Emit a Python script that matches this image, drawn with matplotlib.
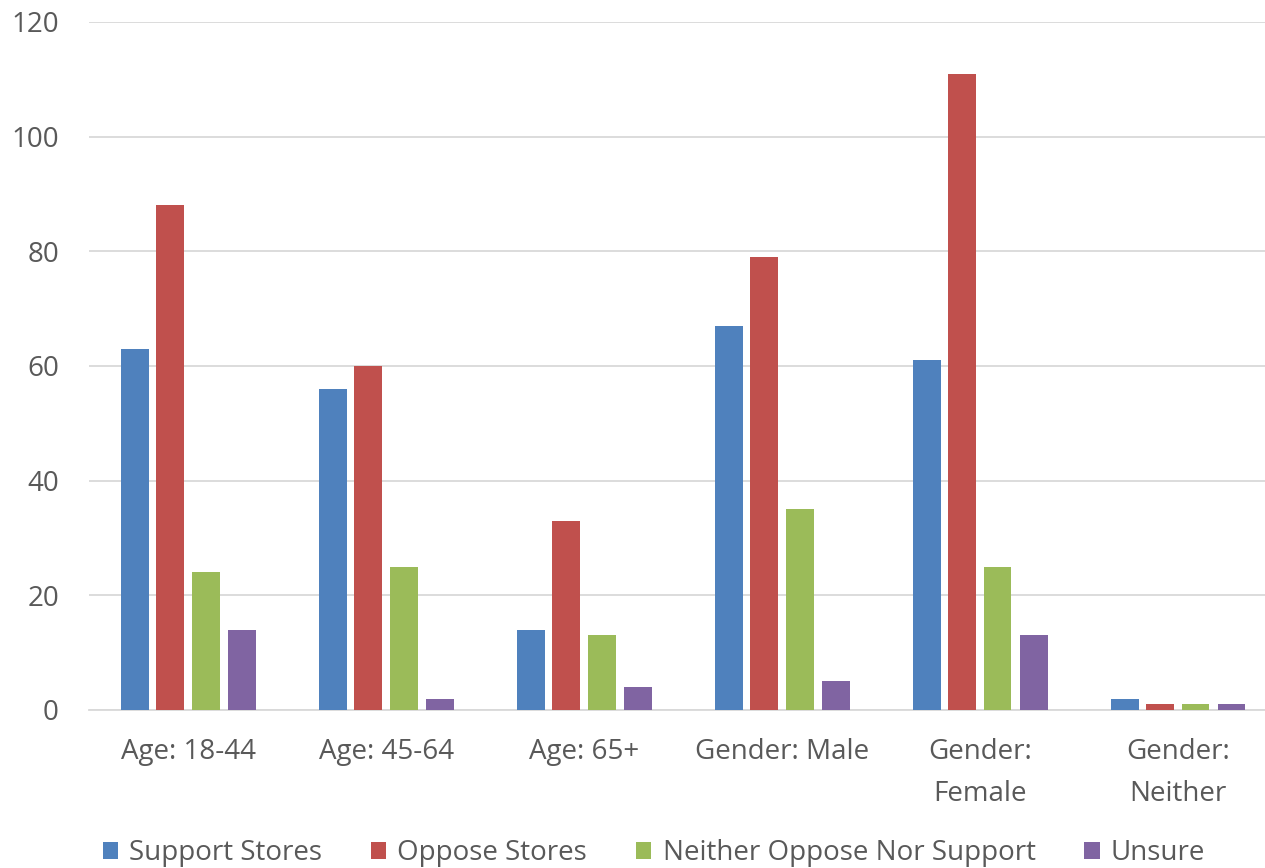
import matplotlib.pyplot as plt
import numpy as np

plt.rcParams['font.family'] = ['Open Sans', 'DejaVu Sans']

categories = ['Age: 18-44', 'Age: 45-64', 'Age: 65+', 'Gender: Male', 'Gender:\nFemale', 'Gender:\nNeither']
series_names = ['Support Stores', 'Oppose Stores', 'Neither Oppose Nor Support', 'Unsure']
support = [63, 56, 14, 67, 61, 2]
oppose = [88, 60, 33, 79, 111, 1]
neither = [24, 25, 13, 35, 25, 1]
unsure = [14, 2, 4, 5, 13, 1]
colors = ['#4F81BD', '#C0504D', '#9BBB59', '#8064A2']
text_color = '#595959'

W, H = 1265, 868
fig = plt.figure(figsize=(W / 100, H / 100), dpi=100)
ax = fig.add_axes([89.5 / W, 1 - 710 / H, 1187.5 / W, 688 / H])

x = np.arange(len(categories))
offsets = [-0.27, -0.093, 0.088, 0.27]
bar_w = 0.141
for vals, off, col, name in zip([support, oppose, neither, unsure], offsets, colors, series_names):
    ax.bar(x + off, vals, width=bar_w, color=col, label=name, zorder=3)

ax.set_xlim(-0.5, len(categories) - 0.5)
ax.set_ylim(0, 120)
ax.set_yticks(range(0, 121, 20))
ax.yaxis.grid(True, color='#D9D9D9', linewidth=1.3, zorder=0)
ax.set_xticks(x)
ax.set_xticklabels(categories, linespacing=1.68)
for s in ['top', 'right', 'left']:
    ax.spines[s].set_visible(False)
ax.spines['bottom'].set_color('#D9D9D9')
ax.spines['bottom'].set_linewidth(1.3)
ax.tick_params(axis='both', length=0, labelsize=20, colors=text_color)
ax.tick_params(axis='y', pad=22)
ax.tick_params(axis='x', pad=20)

handles, labels = ax.get_legend_handles_labels()
leg = fig.legend(handles, labels, loc='center', bbox_to_anchor=(654 / W, 1 - 853 / H),
                 ncol=4, frameon=False, fontsize=20, handlelength=0.55, handleheight=0.55,
                 handletextpad=0.4, columnspacing=1.76, borderaxespad=0)
for t in leg.get_texts():
    t.set_color(text_color)

fig.savefig('out.png', dpi=100)
